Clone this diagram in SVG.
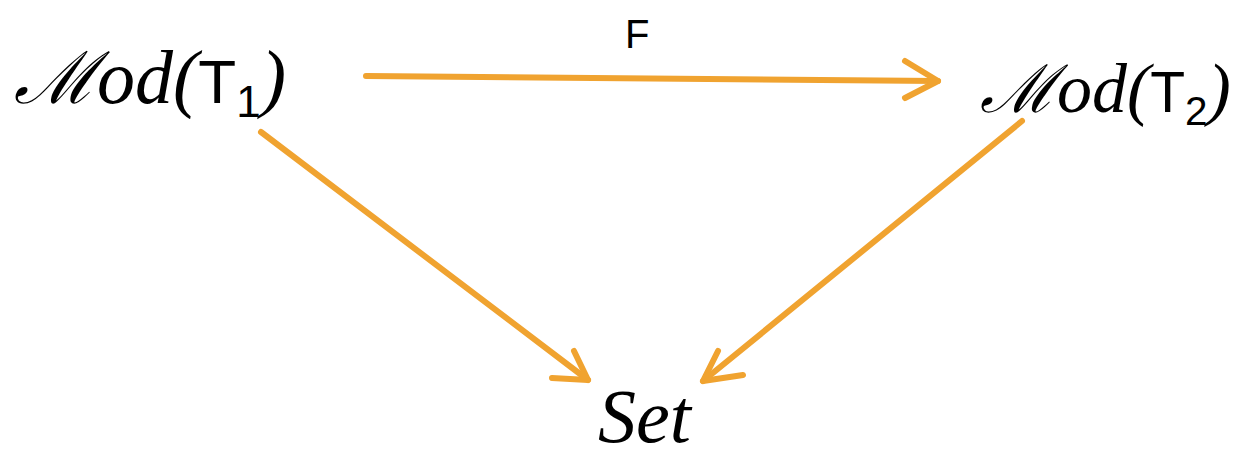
<svg xmlns="http://www.w3.org/2000/svg" width="1249" height="457" viewBox="0 0 1249 457">
<style>
.cal{font-family:"DejaVu Serif","Liberation Serif",serif;font-style:italic;font-size:72px;fill:#000}
.it{font-family:"Liberation Serif","DejaVu Serif",serif;font-style:italic;font-size:76px;fill:#000}
.sf{font-family:"Liberation Sans",Arial,sans-serif;font-size:62px;fill:#000}
.sub{font-family:"Liberation Sans",Arial,sans-serif;font-size:44px;fill:#000}
.lbl{font-family:"Liberation Sans",Arial,sans-serif;font-size:40px;fill:#000}
.edge{stroke:#F0A330;stroke-width:6;fill:none;stroke-linecap:round;stroke-linejoin:round}
</style>
<rect width="1249" height="457" fill="#fff"/>
<g id="mod-t1">
<text x="14" y="103"><tspan class="cal">ℳ</tspan><tspan class="it">od(</tspan><tspan class="sf">T</tspan><tspan class="sub" dy="14">1</tspan><tspan class="it" dy="-14">)</tspan></text>
</g>
<g id="mod-t2" transform="translate(980,112) scale(0.92)">
<text x="0" y="0"><tspan class="cal">ℳ</tspan><tspan class="it">od(</tspan><tspan class="sf">T</tspan><tspan class="sub" dy="14">2</tspan><tspan class="it" dy="-14">)</tspan></text>
</g>
<g id="set">
<text x="598" y="442" class="it" font-size="70">Set</text>
</g>
<g id="connectors">
<path class="edge" d="M366 76 L938 81"/>
<path class="edge" d="M905 61 L938 81 L905 98"/>
<text x="625" y="48" class="lbl">F</text>
<path class="edge" d="M261 132 L588 380"/>
<path class="edge" d="M574 351 L588 380 L552 378"/>
<path class="edge" d="M1022 121 L703 381"/>
<path class="edge" d="M718 351 L703 381 L743 375"/>
</g>
</svg>
